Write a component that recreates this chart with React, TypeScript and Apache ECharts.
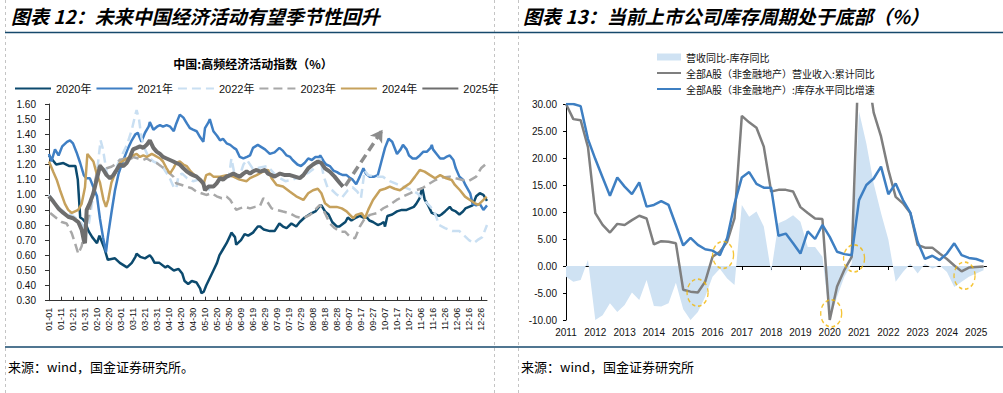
import React, { useEffect, useRef } from "react";
import * as echarts from "echarts";

// ---------- Left chart: 中国:高频经济活动指数 ----------
const dayLabels = ["01-01","01-11","01-21","01-31","02-10","02-20","03-01","03-11","03-21","03-31","04-10","04-20","04-30","05-10","05-20","05-30","06-09","06-19","06-29","07-09","07-19","07-29","08-08","08-18","08-28","09-07","09-17","09-27","10-07","10-17","10-27","11-06","11-16","11-26","12-06","12-16","12-26"];
const yearNames = ["2020年", "2021年", "2022年", "2023年", "2024年", "2025年"];

const s2020 = [[0,1.26],[6,1.20],[12,1.21],[17,1.19],[22,1.19],[24,1.10],[26,0.85],[28,0.84],[30,0.82],[33,0.76],[36,0.72],[40,0.68],[42,0.73],[46,0.65],[49,0.57],[55,0.58],[59,0.55],[63,0.53],[65,0.52],[69,0.55],[72,0.59],[73,0.61],[76,0.59],[80,0.58],[84,0.60],[86,0.58],[88,0.55],[92,0.55],[97,0.52],[99,0.53],[104,0.50],[108,0.51],[111,0.48],[113,0.43],[116,0.41],[119,0.43],[123,0.42],[126,0.38],[127,0.35],[129,0.36],[131,0.40],[134,0.45],[137,0.50],[140,0.55],[142,0.60],[145,0.64],[148,0.68],[151,0.73],[152,0.75],[155,0.72],[156,0.67],[160,0.70],[163,0.74],[166,0.73],[170,0.75],[174,0.79],[176,0.79],[179,0.77],[184,0.76],[188,0.76],[192,0.81],[195,0.79],[198,0.78],[202,0.81],[206,0.79],[209,0.82],[213,0.85],[217,0.87],[222,0.89],[226,0.93],[227,0.93],[230,0.89],[233,0.87],[236,0.82],[240,0.79],[242,0.79],[247,0.82],[249,0.85],[252,0.83],[256,0.85],[259,0.86],[262,0.85],[265,0.85],[267,0.83],[270,0.82],[274,0.80],[277,0.81],[279,0.82],[280,0.79],[282,0.86],[286,0.87],[290,0.89],[294,0.90],[298,0.90],[304,0.92],[306,0.94],[309,0.98],[311,1.05],[313,0.97],[316,0.93],[319,0.88],[322,0.87],[325,0.86],[327,0.87],[330,0.89],[334,0.92],[336,0.90],[339,0.89],[342,0.87],[345,0.89],[347,0.91],[350,0.92],[353,0.93],[356,0.99],[359,1.01],[362,1.00],[365,0.96]];

const s2021 = [[0,1.27],[2,1.22],[5,1.30],[8,1.26],[11,1.32],[15,1.35],[17.5,1.36],[20,1.34],[23,1.28],[26,1.21],[29,1.13],[31,1.11],[34,1.11],[37,1.05],[40,0.99],[42.5,0.84],[45,0.72],[47.5,0.62],[49,0.72],[52,0.88],[55,1.03],[58,1.14],[60.5,1.20],[63,1.25],[66,1.31],[69,1.36],[72,1.40],[74,1.41],[77,1.35],[80,1.41],[83,1.45],[84,1.48],[87,1.43],[90,1.45],[92.5,1.46],[95,1.45],[98,1.46],[101,1.45],[104,1.42],[106,1.47],[109,1.53],[112,1.51],[115,1.47],[117.5,1.44],[120,1.43],[123,1.42],[126,1.38],[128.6,1.35],[130,1.44],[133,1.48],[134,1.50],[137,1.42],[140,1.39],[142.5,1.36],[145,1.37],[148,1.34],[151,1.33],[154,1.31],[156,1.30],[159,1.25],[162,1.24],[165,1.25],[167.5,1.26],[170,1.31],[174,1.33],[176,1.32],[180,1.30],[184,1.27],[188,1.28],[192,1.31],[195,1.29],[198,1.26],[201,1.25],[203,1.23],[207,1.20],[210,1.19],[213,1.21],[216,1.24],[219,1.23],[222,1.25],[225,1.25],[226,1.26],[229,1.22],[231,1.20],[234,1.19],[237,1.16],[240,1.15],[242,1.14],[245,1.13],[248,1.13],[251,1.11],[253,1.10],[256,1.07],[259,1.12],[262,1.175],[264,1.14],[267,1.12],[271,1.12],[274,1.13],[277,1.22],[280,1.31],[283,1.37],[286,1.35],[290,1.27],[293,1.30],[295,1.33],[298,1.30],[300,1.26],[303,1.24],[306,1.24],[309,1.26],[312,1.285],[315,1.285],[318,1.31],[319,1.33],[320,1.30],[323,1.27],[326,1.24],[329,1.24],[331,1.25],[334,1.26],[337,1.23],[339,1.175],[342,1.12],[345,1.10],[347,1.065],[351,1.01],[353,0.94],[356,0.93],[359,0.94],[362,0.90],[365,0.93]];

const s2022 = [[0,1.00],[5,0.95],[10,0.90],[15,0.88],[20,0.86],[25,0.83],[30,0.78],[33,0.80],[36,0.95],[40,1.15],[43,1.36],[45,1.30],[48,1.15],[50,1.10],[53,1.12],[56,1.18],[60,1.25],[65,1.33],[69,1.43],[72,1.53],[73,1.56],[75,1.50],[77,1.38],[80,1.30],[83,1.25],[87,1.22],[90,1.21],[95,1.18],[100,1.12],[104,1.05],[106,1.04],[108,1.13],[111,1.14],[115,1.11],[120,1.09],[125,1.10],[130,1.05],[135,1.03],[140,1.08],[145,1.10],[150,1.12],[152,1.24],[155,1.12],[158,1.10],[162,1.20],[165,1.23],[170,1.17],[176,1.18],[182,1.19],[190,1.12],[197,1.09],[203,1.10],[210,1.12],[217,1.15],[222,1.18],[226,1.24],[229,1.12],[232,1.05],[236,1.03],[240,1.00],[244,0.98],[249,1.03],[253,1.05],[257,1.02],[260,0.98],[263,1.16],[266,1.13],[272,1.12],[278,1.12],[284,1.09],[290,1.07],[296,1.05],[302,1.03],[307,1.01],[312,0.97],[318,0.92],[322,0.87],[325,0.80],[330,0.78],[336,0.76],[342,0.76],[346,0.73],[350,0.70],[354,0.68],[357,0.70],[361,0.72],[365,0.80]];

const s2023 = [[1,0.88],[6.4,0.845],[10.6,0.82],[14.7,0.81],[19,0.745],[21.7,0.68],[24.4,0.61],[27.2,0.66],[30,0.77],[32.8,0.855],[37,1.03],[39.7,1.14],[42.5,1.20],[45.3,1.165],[48,1.175],[52,1.185],[55,1.20],[59,1.23],[63.3,1.24],[67.5,1.23],[70,1.25],[74.4,1.24],[78.6,1.23],[81.4,1.24],[85.6,1.22],[89.7,1.21],[94,1.185],[98,1.165],[100.8,1.14],[103.6,1.12],[106,1.076],[110.6,1.065],[114.7,1.054],[119,1.043],[123,1.02],[127,1.01],[131,0.999],[135.6,1.01],[139.7,0.99],[144,0.977],[148,0.988],[151,0.966],[153.6,0.933],[156,0.90],[159,0.91],[163,0.92],[167.5,0.91],[171.7,0.92],[175.8,0.925],[178.6,0.977],[181,0.966],[185.5,0.91],[189.7,0.90],[195,0.889],[200.8,0.878],[206,0.855],[212,0.845],[217.5,0.867],[221.7,0.90],[225.8,0.933],[230,0.878],[234,0.811],[238,0.78],[242.5,0.756],[246.7,0.756],[250.8,0.723],[255,0.712],[259,0.789],[263.3,0.845],[267.5,0.867],[273,0.878],[278.6,0.911],[284,0.933],[289.7,0.966],[295,0.988],[300.8,1.01],[306,1.03],[311,1.043],[317.5,1.076],[322,1.098],[328,1.115],[334,1.12],[339,1.109],[344.7,1.098],[350,1.093],[356,1.12],[360,1.175],[364.7,1.208]];

const s2024 = [[0,1.22],[3.6,1.15],[6.4,1.10],[9.2,1.03],[13.3,0.94],[16,0.90],[19,0.88],[21.7,0.89],[24.4,0.90],[27.2,0.94],[30,1.05],[32,1.27],[34,1.25],[37,1.22],[39.7,1.14],[42.5,1.08],[45.3,0.97],[47.5,0.92],[49.4,0.97],[52,1.08],[55,1.14],[59,1.21],[63,1.23],[67.5,1.25],[70,1.26],[73,1.27],[75.8,1.25],[78.6,1.26],[81.4,1.25],[85.6,1.27],[88,1.26],[92.5,1.24],[95,1.22],[98,1.175],[100.8,1.14],[103.6,1.175],[106,1.21],[109,1.22],[112,1.20],[114.7,1.19],[117.5,1.16],[120,1.14],[123,1.12],[125.8,1.10],[128.6,1.065],[131,1.13],[134,1.14],[137,1.12],[142.5,1.12],[148,1.13],[153.6,1.12],[159,1.10],[164.7,1.09],[167.5,1.11],[173,1.13],[178.6,1.155],[182.5,1.165],[185.5,1.11],[189.7,1.065],[195,1.055],[200.8,1.02],[206,0.99],[212,0.966],[216,1.01],[220,1.03],[224,1.04],[227,1.01],[230,0.944],[234,0.92],[239.7,0.92],[244,0.91],[248,0.89],[250.8,0.867],[253.6,0.845],[256,0.867],[260.6,0.878],[263.3,0.845],[266,0.90],[270,0.966],[275.8,1.03],[280,1.04],[284,1.054],[288,1.04],[292.5,1.03],[296.7,1.054],[300.8,1.076],[305,1.12],[309,1.164],[313,1.153],[317.5,1.13],[321.7,1.109],[326,1.13],[331,1.109],[335.6,1.098],[338.3,1.065],[342.5,1.03],[346.7,0.988],[350.8,0.966],[355,0.944],[357.8,0.933],[362,0.966],[364.7,0.988]];

const s2025 = [[0,0.99],[3.6,0.955],[7.8,0.91],[12,0.88],[16,0.855],[20,0.845],[24.4,0.82],[27.2,0.77],[29,0.70],[30,0.68],[31.4,0.90],[34,0.945],[37,1.01],[39.7,1.10],[42.5,1.19],[45.3,1.165],[48,1.13],[50.8,1.11],[53.6,1.13],[56.4,1.165],[59,1.20],[62,1.19],[64.7,1.21],[67.5,1.25],[70,1.30],[73,1.31],[75.8,1.32],[78.6,1.31],[81.4,1.33],[84,1.36],[87,1.31],[89.7,1.285],[92.5,1.27],[95,1.25],[98,1.24],[100.8,1.23],[103.6,1.22],[106,1.21],[109,1.20],[112,1.175],[114.7,1.155],[117.5,1.14],[120,1.13],[123,1.12],[125.8,1.10],[128.6,1.076],[130,1.03],[132.8,1.054],[137,1.054],[139.7,1.076],[142.5,1.11],[145,1.10],[148,1.12],[151,1.13],[153.6,1.14],[156,1.13],[159,1.12],[162,1.14],[164.7,1.155],[167.5,1.14],[170,1.155],[173,1.164],[176,1.153],[180,1.164],[182.5,1.14],[185.5,1.13],[188,1.12],[192.5,1.14],[196.7,1.13],[200.8,1.13],[205,1.12],[209,1.11],[212,1.13],[216,1.175],[220,1.20],[224,1.22],[227,1.21],[230,1.175],[234,1.153],[238,1.12],[242.5,1.076],[245,1.054]];

// arrow annotation (start / end in data coordinates)
const arrowFrom = [247, 1.06];
const arrowTo = [278, 1.43];

// ---------- Right chart: 库存周期 ----------
const yearTicks = [2011,2012,2013,2014,2015,2016,2017,2018,2019,2020,2021,2022,2023,2024,2025];
const rightNames = ["营收同比-库存同比", "全部A股（非金融地产）营业收入:累计同比", "全部A股（非金融地产）:库存水平同比增速"];
// quarterly, from 2011Q1
const gapVals = [-2.0,-2.9,-2.6,1.1,-10.0,-9.1,-6.9,-8.5,-7.2,-4.9,-6.3,-2.6,-7.4,-7.5,-6.9,-3.1,-8.0,-10.0,-8.5,-5.7,-2.0,-0.5,-2.3,-3.5,11.3,9.1,10.1,7.3,-1.1,7.9,8.5,9.4,8.2,3.5,3.5,1.7,-10.0,-5.7,-2.0,0.4,28.6,22.7,15.3,9.8,4.9,-2.9,-1.1,0.4,-1.4,0.4,-0.5,0.1,-1.1,-3.9,-2.9,-2.0,-1.4,-0.8];
const revenueVals = [30.0,27.2,27.0,22.0,9.8,7.6,6.2,7.8,7.6,8.5,9.3,8.8,4.0,4.6,4.5,4.2,-4.4,-4.75,-4.9,-2.9,1.7,2.65,4.5,8.8,27.8,26.6,25.6,22.1,13.8,14.1,14.1,13.8,10.9,9.8,8.8,8.7,-10.0,-3.8,-0.7,1.7,40.5,37.5,28.4,24.0,17.8,12.8,11.6,9.8,3.9,3.4,3.4,2.3,1.3,0.1,-1.0,-0.3,-0.2,-0.1];
const inventoryVals = [30.0,30.0,29.6,23.5,19.8,16.4,13.0,16.4,14.7,13.3,15.5,11.0,11.3,12.0,11.3,7.6,3.8,5.2,3.9,3.1,2.85,2.0,5.2,11.5,16.4,17.4,15.2,14.5,14.5,5.6,6.0,4.2,2.3,6.4,5.0,7.6,5.4,2.65,2.2,2.0,12.2,15.0,16.2,18.4,13.3,15.3,12.2,9.9,4.5,1.3,1.9,1.1,2.3,4.2,2.0,1.5,1.3,0.8];
// highlighted turning points (dashed circles)
const circlePts = [[2015.49,-4.94],[2016.36,2.04],[2020.83,1.42],[2020.05,-8.77],[2024.60,-1.79]];

const NUM = "'Liberation Sans', Arial, 'Noto Sans CJK SC', sans-serif";
const CJK = "'Noto Sans CJK SC', sans-serif";

export default function App() {
  const ref = useRef<HTMLDivElement>(null);
  useEffect(() => {
    document.body.style.margin = "0";
    const chart = echarts.init(ref.current as HTMLDivElement, null, { renderer: "svg" });
    const q = (vals: number[]) => vals.map((v, k) => [2011 + k / 4, v]);
    const leftLine = (name: string, data: number[][], color: string, width: number, dash?: number[], z = 2) => ({
      type: "line", name, data, xAxisIndex: 0, yAxisIndex: 0, symbol: "none",
      lineStyle: { color, width, type: dash ? dash : "solid", cap: "butt" }, itemStyle: { color }, z,
    });
    const option: any = {
      animation: false,
      grid: [
        { left: 49, top: 104, width: 438, height: 196.7 },
        { left: 566, top: 104, width: 420.5, height: 216 },
      ],
      legend: [
        {
          data: yearNames, left: 14, top: 83, itemWidth: 36, itemHeight: 12, itemGap: 4, padding: 0,
          itemStyle: { opacity: 0 },
          textStyle: { fontSize: 11, fontFamily: NUM, color: "#111" },
        },
        {
          data: [
            { name: rightNames[0], icon: "rect", itemStyle: { opacity: 1, color: "#cfe2f3" } },
            rightNames[1], rightNames[2],
          ],
          orient: "vertical", left: 656, top: 51, itemWidth: 24, itemHeight: 7, itemGap: 4, padding: 0,
          itemStyle: { opacity: 0 },
          textStyle: { fontSize: 10, fontFamily: CJK, color: "#111", lineHeight: 12 },
        },
      ],
      xAxis: [
        {
          type: "value", gridIndex: 0, min: 0, max: 365, position: "bottom",
          axisLine: { onZero: false, lineStyle: { color: "#333", width: 1 } },
          axisTick: { show: true, inside: true, length: 4, customValues: dayLabels.map((_, i) => i * 10), lineStyle: { color: "#333" } },
          axisLabel: {
            customValues: dayLabels.map((_, i) => i * 10), rotate: 90, fontSize: 9, margin: 7, color: "#111", fontFamily: NUM,
            formatter: (v: number) => dayLabels[Math.round(v / 10)] || "",
          },
          splitLine: { show: false },
        },
        {
          type: "value", gridIndex: 1, min: 2011, max: 2025.35, position: "bottom",
          axisLine: { onZero: true, onZeroAxisIndex: 1, lineStyle: { color: "#000", width: 1 } },
          axisTick: { show: true, inside: false, length: 4, customValues: yearTicks, lineStyle: { color: "#000" } },
          axisLabel: { show: false },
          splitLine: { show: false },
        },
        {
          type: "value", gridIndex: 1, min: 2011, max: 2025.35, position: "bottom",
          axisLine: { show: false, onZero: false }, axisTick: { show: false },
          axisLabel: { customValues: yearTicks, fontSize: 10, margin: 7, color: "#111", fontFamily: NUM, formatter: (v: number) => String(v) },
          splitLine: { show: false },
        },
      ],
      yAxis: [
        {
          type: "value", gridIndex: 0, min: 0.3, max: 1.6, interval: 0.1,
          axisLine: { show: true, lineStyle: { color: "#333", width: 1 } },
          axisTick: { show: true, length: 4, lineStyle: { color: "#333" } },
          axisLabel: { fontSize: 10, margin: 13, color: "#111", fontFamily: NUM, formatter: (v: number) => v.toFixed(2) },
          splitLine: { show: false },
        },
        {
          type: "value", gridIndex: 1, min: -10, max: 30, interval: 5,
          axisLine: { show: true, lineStyle: { color: "#000", width: 1 } },
          axisTick: { show: true, length: 3, lineStyle: { color: "#000" } },
          axisLabel: { fontSize: 10, margin: 9, color: "#111", fontFamily: NUM, formatter: (v: number) => v.toFixed(2) },
          splitLine: { show: false },
        },
      ],
      series: [
        leftLine("2020年", s2020, "#0c4a6e", 2.5),
        leftLine("2021年", s2021, "#3f7fc4", 2.5),
        leftLine("2022年", s2022, "#c9dff2", 2.5, [9, 5]),
        leftLine("2023年", s2023, "#a8a8a8", 2.5, [9, 5]),
        leftLine("2024年", s2024, "#c6a15c", 2.5),
        {
          ...leftLine("2025年", s2025, "#6e6e6e", 4, undefined, 5),
          markLine: {
            silent: true, symbol: ["none", "arrow"], symbolSize: [11, 12], label: { show: false },
            lineStyle: { color: "#8c8c8c", width: 3.5, type: [9, 5] },
            data: [[{ coord: arrowFrom }, { coord: arrowTo }]],
          },
        },
        {
          type: "line", name: rightNames[0], data: q(gapVals), xAxisIndex: 1, yAxisIndex: 1, symbol: "none",
          lineStyle: { width: 0, opacity: 0 }, areaStyle: { color: "#cfe2f3", opacity: 1 }, itemStyle: { color: "#cfe2f3" },
          color: "#cfe2f3", z: 1,
        },
        {
          type: "line", name: rightNames[1], data: q(revenueVals), xAxisIndex: 1, yAxisIndex: 1, symbol: "none",
          lineStyle: { color: "#7f7f7f", width: 2.5 }, itemStyle: { color: "#7f7f7f" }, z: 3,
        },
        {
          type: "line", name: rightNames[2], data: q(inventoryVals), xAxisIndex: 1, yAxisIndex: 1, symbol: "none",
          lineStyle: { color: "#3e7fc2", width: 2.5 }, itemStyle: { color: "#3e7fc2" }, z: 4,
        },
        {
          type: "scatter", name: "circles", data: circlePts, xAxisIndex: 1, yAxisIndex: 1, symbol: "circle",
          symbolSize: [21, 27], silent: true, clip: false, z: 6,
          itemStyle: { color: "rgba(0,0,0,0)", borderColor: "#f2b705", borderWidth: 1.5, borderType: [4, 3] },
        },
      ],
      graphic: [
        { type: "line", shape: { x1: 5.5, y1: 0, x2: 5.5, y2: 393 }, style: { stroke: "#c4c4c4", lineWidth: 1, lineDash: [3, 3] }, silent: true },
        { type: "line", shape: { x1: 494.5, y1: 0, x2: 494.5, y2: 393 }, style: { stroke: "#c4c4c4", lineWidth: 1, lineDash: [3, 3] }, silent: true },
        { type: "line", shape: { x1: 518.5, y1: 0, x2: 518.5, y2: 393 }, style: { stroke: "#c4c4c4", lineWidth: 1, lineDash: [3, 3] }, silent: true },
        { type: "line", shape: { x1: 5, y1: 32.5, x2: 1003, y2: 32.5 }, style: { stroke: "#16496c", lineWidth: 1.5 }, silent: true },
        { type: "line", shape: { x1: 5, y1: 347, x2: 1003, y2: 347 }, style: { stroke: "#16496c", lineWidth: 1.5 }, silent: true },
        { type: "text", x: 11, y: 15, silent: true, style: { text: "图表 12：未来中国经济活动有望季节性回升", font: "italic bold 19px 'Noto Sans CJK SC'", fill: "#000", verticalAlign: "middle" } },
        { type: "text", x: 523, y: 15, silent: true, style: { text: "图表 13：当前上市公司库存周期处于底部（%）", font: "italic bold 19px 'Noto Sans CJK SC'", fill: "#000", verticalAlign: "middle" } },
        { type: "text", x: 253, y: 63, silent: true, style: { text: "中国:高频经济活动指数（%）", font: "bold 12px 'Noto Sans CJK SC'", fill: "#000", align: "center", verticalAlign: "middle" } },
        { type: "text", x: 8, y: 366, silent: true, style: { text: "来源：wind，国金证券研究所。", font: "13px 'Noto Sans CJK SC'", fill: "#000", verticalAlign: "middle" } },
        { type: "text", x: 521, y: 366, silent: true, style: { text: "来源：wind，国金证券研究所", font: "13px 'Noto Sans CJK SC'", fill: "#000", verticalAlign: "middle" } },
      ],
    };
    chart.setOption(option);
    return () => chart.dispose();
  }, []);
  return <div ref={ref} style={{ position: "absolute", left: 0, top: 0, width: 1003, height: 393, background: "#fff" }} />;
}
